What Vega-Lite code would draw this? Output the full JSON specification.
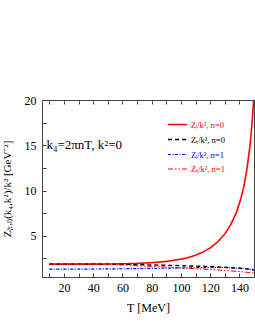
{
  "$schema": "https://vega.github.io/schema/vega-lite/v6.json",
  "width": 212,
  "height": 177,
  "autosize": "none",
  "padding": {"left": 42, "top": 100, "right": 1, "bottom": 53},
  "background": "white",
  "config": {
    "font": "Liberation Serif",
    "view": {"stroke": "#444", "strokeWidth": 1},
    "axis": {
      "domainColor": "#444",
      "tickColor": "#444",
      "grid": false,
      "labelFont": "Liberation Serif",
      "titleFont": "Liberation Serif",
      "labelFontSize": 12,
      "titleFontSize": 12,
      "labelColor": "black",
      "titleColor": "black",
      "titleFontWeight": "normal"
    }
  },
  "datasets": {
    "curves": [
      {"T": 10, "s": "Zₗ/k², n=0", "v": 1.87},
      {"T": 20, "s": "Zₗ/k², n=0", "v": 1.87},
      {"T": 30, "s": "Zₗ/k², n=0", "v": 1.87},
      {"T": 40, "s": "Zₗ/k², n=0", "v": 1.87},
      {"T": 50, "s": "Zₗ/k², n=0", "v": 1.88},
      {"T": 60, "s": "Zₗ/k², n=0", "v": 1.9},
      {"T": 70, "s": "Zₗ/k², n=0", "v": 1.95},
      {"T": 80, "s": "Zₗ/k², n=0", "v": 2.03},
      {"T": 90, "s": "Zₗ/k², n=0", "v": 2.17},
      {"T": 100, "s": "Zₗ/k², n=0", "v": 2.42},
      {"T": 105, "s": "Zₗ/k², n=0", "v": 2.6},
      {"T": 110, "s": "Zₗ/k², n=0", "v": 2.85},
      {"T": 115, "s": "Zₗ/k², n=0", "v": 3.2},
      {"T": 120, "s": "Zₗ/k², n=0", "v": 3.65},
      {"T": 125, "s": "Zₗ/k², n=0", "v": 4.3},
      {"T": 130, "s": "Zₗ/k², n=0", "v": 5.2},
      {"T": 134, "s": "Zₗ/k², n=0", "v": 6.2},
      {"T": 138, "s": "Zₗ/k², n=0", "v": 7.6},
      {"T": 141, "s": "Zₗ/k², n=0", "v": 9.1},
      {"T": 143, "s": "Zₗ/k², n=0", "v": 10.4},
      {"T": 145, "s": "Zₗ/k², n=0", "v": 12.2},
      {"T": 147, "s": "Zₗ/k², n=0", "v": 14.6},
      {"T": 148, "s": "Zₗ/k², n=0", "v": 16.2},
      {"T": 149, "s": "Zₗ/k², n=0", "v": 18.2},
      {"T": 149.8, "s": "Zₗ/k², n=0", "v": 20.2},
      {"T": 10, "s": "Zₜ/k², n=0", "v": 1.87},
      {"T": 30, "s": "Zₜ/k², n=0", "v": 1.87},
      {"T": 50, "s": "Zₜ/k², n=0", "v": 1.86},
      {"T": 60, "s": "Zₜ/k², n=0", "v": 1.85},
      {"T": 70, "s": "Zₜ/k², n=0", "v": 1.82},
      {"T": 80, "s": "Zₜ/k², n=0", "v": 1.78},
      {"T": 90, "s": "Zₜ/k², n=0", "v": 1.74},
      {"T": 100, "s": "Zₜ/k², n=0", "v": 1.7},
      {"T": 110, "s": "Zₜ/k², n=0", "v": 1.65},
      {"T": 120, "s": "Zₜ/k², n=0", "v": 1.6},
      {"T": 130, "s": "Zₜ/k², n=0", "v": 1.52},
      {"T": 140, "s": "Zₜ/k², n=0", "v": 1.42},
      {"T": 145, "s": "Zₜ/k², n=0", "v": 1.35},
      {"T": 150, "s": "Zₜ/k², n=0", "v": 1.25},
      {"T": 10, "s": "Zₗ/k², n=1", "v": 1.32},
      {"T": 40, "s": "Zₗ/k², n=1", "v": 1.33},
      {"T": 60, "s": "Zₗ/k², n=1", "v": 1.36},
      {"T": 80, "s": "Zₗ/k², n=1", "v": 1.4},
      {"T": 100, "s": "Zₗ/k², n=1", "v": 1.45},
      {"T": 120, "s": "Zₗ/k², n=1", "v": 1.5},
      {"T": 130, "s": "Zₗ/k², n=1", "v": 1.5},
      {"T": 140, "s": "Zₗ/k², n=1", "v": 1.42},
      {"T": 145, "s": "Zₗ/k², n=1", "v": 1.35},
      {"T": 150, "s": "Zₗ/k², n=1", "v": 1.2},
      {"T": 10, "s": "Zₜ/k², n=1", "v": 1.87},
      {"T": 40, "s": "Zₜ/k², n=1", "v": 1.85},
      {"T": 60, "s": "Zₜ/k², n=1", "v": 1.78},
      {"T": 80, "s": "Zₜ/k², n=1", "v": 1.62},
      {"T": 100, "s": "Zₜ/k², n=1", "v": 1.45},
      {"T": 120, "s": "Zₜ/k², n=1", "v": 1.28},
      {"T": 140, "s": "Zₜ/k², n=1", "v": 1.05},
      {"T": 150, "s": "Zₜ/k², n=1", "v": 0.9}
    ],
    "note": [{"T": 8, "v": 15, "text": "k₄=2πnT, k²=0"}]
  },
  "layer": [
    {
      "data": {"name": "curves"},
      "mark": {"type": "line", "clip": true},
      "encoding": {
        "x": {
          "field": "T", "type": "quantitative",
          "scale": {"domain": [5, 150], "nice": false, "zero": false},
          "axis": {
            "title": "T [MeV]",
            "values": [10, 20, 30, 40, 50, 60, 70, 80, 90, 100, 110, 120, 130, 140, 150],
            "labelExpr": "datum.value % 20 === 0 && datum.value < 150 ? datum.label : ''",
            "tickSize": -4,
            "labelPadding": 9,
            "titlePadding": 9,
            "domain": false
          }
        },
        "y": {
          "field": "v", "type": "quantitative",
          "scale": {"domain": [0.45, 20], "nice": false, "zero": false},
          "axis": {
            "title": "Z₍ₜ,ₗ₎(k₄,k²)/k² [GeV⁻²]",
            "titleFontSize": 11,
            "values": [2.5, 5, 7.5, 10, 12.5, 15, 17.5, 20],
            "labelExpr": "datum.value % 5 === 0 ? datum.label : ''",
            "tickSize": -4,
            "labelPadding": 10,
            "titlePadding": 12,
            "domain": false
          }
        },
        "color": {
          "field": "s", "type": "nominal",
          "scale": {
            "domain": ["Zₗ/k², n=0", "Zₜ/k², n=0", "Zₗ/k², n=1", "Zₜ/k², n=1"],
            "range": ["#ff0000", "#000000", "#0000ff", "#ff0000"]
          },
          "legend": {
            "title": null,
            "orient": "none",
            "legendX": 125,
            "legendY": 14,
            "symbolType": "stroke",
            "symbolSize": 361,
            "rowPadding": -4,
            "labelFont": "Liberation Serif",
            "labelFontSize": 8.5,
            "labelOffset": 3,
            "encode": {
              "labels": {
                "update": {
                  "fill": {"signal": "datum.label === 'Zₜ/k², n=0' ? '#000000' : datum.label === 'Zₗ/k², n=1' ? '#0000ff' : '#ff0000'"}
                }
              }
            }
          }
        },
        "strokeDash": {
          "field": "s", "type": "nominal",
          "scale": {
            "domain": ["Zₗ/k², n=0", "Zₜ/k², n=0", "Zₗ/k², n=1", "Zₜ/k², n=1"],
            "range": [[1, 0], [4, 3], [3, 1.5, 1, 1.5], [5, 2, 1.5, 2, 1.5, 2]]
          },
          "legend": null
        },
        "strokeWidth": {
          "field": "s", "type": "nominal",
          "scale": {
            "domain": ["Zₗ/k², n=0", "Zₜ/k², n=0", "Zₗ/k², n=1", "Zₜ/k², n=1"],
            "range": [1.6, 1, 1, 1]
          },
          "legend": null
        }
      }
    },
    {
      "data": {"name": "curves"},
      "mark": {"type": "line", "opacity": 0},
      "encoding": {
        "x": {
          "field": "T", "type": "quantitative",
          "axis": {
            "orient": "top", "title": null, "labels": false, "domain": false,
            "values": [10, 20, 30, 40, 50, 60, 70, 80, 90, 100, 110, 120, 130, 140, 150],
            "tickSize": -4
          }
        },
        "y": {
          "field": "v", "type": "quantitative",
          "axis": null
        },
        "detail": {"field": "s"}
      }
    },
    {
      "data": {"name": "note"},
      "mark": {"type": "text", "align": "left", "baseline": "middle", "font": "Liberation Serif", "fontSize": 13, "color": "black"},
      "encoding": {
        "x": {"field": "T", "type": "quantitative", "axis": null},
        "y": {"field": "v", "type": "quantitative", "axis": null},
        "text": {"field": "text"}
      }
    }
  ],
  "resolve": {"axis": {"x": "independent", "y": "independent"}}
}
